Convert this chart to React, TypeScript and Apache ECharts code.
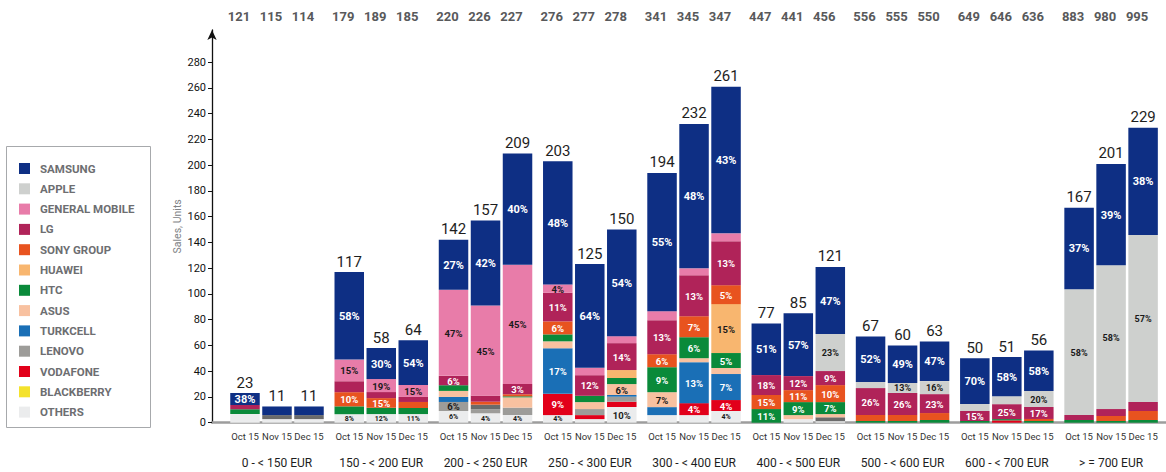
import React, { useEffect, useRef } from 'react';
import * as echarts from 'echarts';

// ---------- data ----------
const BRANDS = ['SAMSUNG', 'APPLE', 'GENERAL MOBILE', 'LG', 'SONY GROUP', 'HUAWEI', 'HTC', 'ASUS', 'TURKCELL', 'LENOVO', 'VODAFONE', 'BLACKBERRY', 'OTHERS'];
const RANGES = ['0 - < 150 EUR', '150 - < 200 EUR', '200 - < 250 EUR', '250 - < 300 EUR', '300 - < 400 EUR', '400 - < 500 EUR', '500 - < 600 EUR', '600 - < 700 EUR', '> = 700 EUR'];
const MONTHS = ['Oct 15', 'Nov 15', 'Dec 15'];
const AVG_PRICES = [121, 115, 114, 179, 189, 185, 220, 226, 227, 276, 277, 278, 341, 345, 347, 447, 441, 456, 556, 555, 550, 649, 646, 636, 883, 980, 995];
const TOTALS = [23, 11, 11, 117, 58, 64, 142, 157, 209, 203, 125, 150, 194, 232, 261, 77, 85, 121, 67, 60, 63, 50, 51, 56, 167, 201, 229];
const Y_TICKS = [0, 20, 40, 60, 80, 100, 120, 140, 160, 180, 200, 220, 240, 260, 280];

// units per bar (Oct/Nov/Dec for each price range)
const SAMSUNG = [9.3, 6.7, 6.7, 68, 24.1, 34.7, 38.8, 66, 86.4, 95.6, 80.6, 82.8, 107.4, 112.1, 113.9, 40, 48.8, 52.2, 35.4, 29.1, 30.7, 35.5, 30.4, 31.4, 63.3, 78.7, 83.3];
const APPLE = [0, 0, 0, 0, 0, 0, 0, 0, 0, 0, 0, 0, 0, 0, 0, 0, 0, 28.7, 4.7, 7.8, 10.1, 5.4, 6.2, 12.4, 97.7, 111.7, 129.6];
const GENERAL_MOBILE = [0, 0, 0, 16.8, 10.1, 9.3, 66.8, 70, 92.5, 6.5, 5.7, 5.4, 7, 5.4, 6.2, 0, 0, 0, 0, 0, 0, 0, 0, 0, 0, 0, 0];
const LG = [3.3, 0, 0, 8.5, 4.7, 3.9, 7.3, 4.7, 8, 22.2, 16, 20.9, 26.4, 31.8, 34.1, 15.5, 10.9, 10.9, 20.9, 17.1, 14.7, 7.8, 11.6, 9.3, 3.9, 5.4, 7];
const SONY = [0, 0, 0, 11, 7.5, 4.7, 0, 2.3, 1.6, 10.1, 0, 0, 10.1, 16.3, 14.7, 10.9, 9.3, 13.2, 4.7, 4.7, 5.4, 0, 0, 1.6, 0, 3.9, 7];
const HUAWEI = [0, 0, 0, 0, 0, 0, 0, 0, 0, 0, 0, 6.2, 0, 0, 38, 0, 0, 0, 0, 0, 0, 0, 0, 0, 0, 0, 0];
const HTC = [3.6, 0, 0, 6.1, 4.9, 4.7, 4.4, 0, 0.8, 5.4, 4.9, 4.7, 19.4, 16.3, 11.6, 10.6, 10.1, 9.3, 1.3, 1.3, 2.1, 1.3, 1, 1.3, 2.1, 1.3, 2.1];
const ASUS = [0, 0, 0, 0, 0, 0, 4.7, 0, 8, 5.4, 5.4, 8.5, 11.6, 3.1, 4.7, 0, 3.1, 2.5, 0, 0, 0, 0, 0, 0, 0, 0, 0];
const TURKCELL = [0, 0, 0, 0, 0, 0, 3.9, 0, 0, 35.4, 0, 1.3, 6.2, 31.8, 20.2, 0, 0, 0, 0, 0, 0, 0, 0, 0, 0, 0, 0];
const UNLISTED = [0, 3.1, 3.1, 0, 0, 0, 0, 3.6, 0, 0, 0, 0, 0, 0, 0, 0, 0, 3, 0, 0, 0, 0, 0, 0, 0, 0, 0];
const LENOVO = [0, 0, 0, 0, 0, 0, 7, 3.1, 5.7, 0, 4.7, 3.9, 0, 0, 0, 0, 0, 0, 0, 0, 0, 0, 0, 0, 0, 0, 0];
const VODAFONE = [0, 0, 0, 0, 0, 0, 0, 0, 0, 16.5, 3.1, 4.1, 0, 9.3, 8.5, 0, 0, 0, 0, 0, 0, 0, 1.8, 0, 0, 0, 0];
const BLACKBERRY = [0, 0, 0, 0, 0, 0, 0, 0, 0, 0, 0, 0, 0, 0, 0, 0, 0, 0, 0, 0, 0, 0, 0, 0, 0, 0, 0];
const OTHERS = [6.8, 2.8, 2.8, 6.6, 6.7, 6.7, 9.1, 7.3, 6, 5.9, 2.8, 12.2, 5.9, 5.9, 9.1, 0, 2.8, 1.2, 0, 0, 0, 0, 0, 0, 0, 0, 0];

// printed share labels (bar index -> %)
const SAMSUNG_PCT: Record<number, number> = { 0: 38, 3: 58, 4: 30, 5: 54, 6: 27, 7: 42, 8: 40, 9: 48, 10: 64, 11: 54, 12: 55, 13: 48, 14: 43, 15: 51, 16: 57, 17: 47, 18: 52, 19: 49, 20: 47, 21: 70, 22: 58, 23: 58, 24: 37, 25: 39, 26: 38 };
const APPLE_PCT: Record<number, number> = { 17: 23, 19: 13, 20: 16, 23: 20, 24: 58, 25: 58, 26: 57 };
const GM_PCT: Record<number, number> = { 3: 15, 4: 19, 5: 15, 6: 47, 7: 45, 8: 45, 9: 4 };
const LG_PCT: Record<number, number> = { 6: 6, 8: 3, 9: 11, 10: 12, 11: 14, 12: 13, 13: 13, 14: 13, 15: 18, 16: 12, 17: 9, 18: 26, 19: 26, 20: 23, 21: 15, 22: 25, 23: 17 };
const SONY_PCT: Record<number, number> = { 3: 10, 4: 15, 9: 6, 12: 6, 13: 7, 14: 5, 15: 15, 16: 11, 17: 10 };
const HUAWEI_PCT: Record<number, number> = { 14: 15 };
const HTC_PCT: Record<number, number> = { 12: 9, 13: 6, 14: 5, 15: 11, 16: 9, 17: 7 };
const ASUS_PCT: Record<number, number> = { 11: 6, 12: 7 };
const TURKCELL_PCT: Record<number, number> = { 9: 17, 13: 13, 14: 7 };
const LENOVO_PCT: Record<number, number> = { 6: 6 };
const VODAFONE_PCT: Record<number, number> = { 9: 9, 13: 4, 14: 4 };
const OTHERS_PCT: Record<number, number> = { 3: 8, 4: 12, 5: 11, 6: 6, 7: 4, 8: 4, 9: 4, 11: 10, 14: 4 };

// ---------- layout / styles ----------
const FONT = "Roboto, 'Liberation Sans', sans-serif";
const GROUP_STEP = 3.258;
const X_MIN = -1.031;
const X_MAX = 28.78;
const BAR_PX = 29.5;

const POS = AVG_PRICES.map((_, i) => Math.floor(i / 3) * GROUP_STEP + (i % 3));
const GROUP_POS = RANGES.map((_, g) => g * GROUP_STEP + 1);
const idxOf = (arr: number[], v: number) => arr.findIndex((p) => Math.abs(p - v) < 1e-6);

type Layer = { name: string; data: number[]; pct: Record<number, number>; color: string; text: string; size: number };
const DARK = '#1a1a1a';
const STACK: Layer[] = [
  { name: 'OTHERS', data: OTHERS, pct: OTHERS_PCT, color: '#ebeced', text: DARK, size: 7 },
  { name: 'BLACKBERRY', data: BLACKBERRY, pct: {}, color: '#f4e22c', text: DARK, size: 9.5 },
  { name: 'VODAFONE', data: VODAFONE, pct: VODAFONE_PCT, color: '#e2001a', text: '#fff', size: 9.5 },
  { name: 'LENOVO', data: LENOVO, pct: LENOVO_PCT, color: '#9d9c99', text: DARK, size: 9.5 },
  { name: 'UNLISTED', data: UNLISTED, pct: {}, color: '#6b6b6b', text: '#fff', size: 9.5 },
  { name: 'TURKCELL', data: TURKCELL, pct: TURKCELL_PCT, color: '#1a6fb6', text: '#fff', size: 9.5 },
  { name: 'ASUS', data: ASUS, pct: ASUS_PCT, color: '#f8c1a0', text: DARK, size: 9.5 },
  { name: 'HTC', data: HTC, pct: HTC_PCT, color: '#0a8a3a', text: '#fff', size: 9.5 },
  { name: 'HUAWEI', data: HUAWEI, pct: HUAWEI_PCT, color: '#f8b66f', text: DARK, size: 9.5 },
  { name: 'SONY GROUP', data: SONY, pct: SONY_PCT, color: '#e8531f', text: '#fff', size: 9.5 },
  { name: 'LG', data: LG, pct: LG_PCT, color: '#b02359', text: '#fff', size: 9.5 },
  { name: 'GENERAL MOBILE', data: GENERAL_MOBILE, pct: GM_PCT, color: '#e87ca9', text: DARK, size: 9.5 },
  { name: 'APPLE', data: APPLE, pct: APPLE_PCT, color: '#ced0ce', text: DARK, size: 9 },
  { name: 'SAMSUNG', data: SAMSUNG, pct: SAMSUNG_PCT, color: '#0e2f84', text: '#fff', size: 11 },
];

export default function App() {
  const ref = useRef<HTMLDivElement>(null);
  useEffect(() => {
    if (!ref.current) return;
    const chart = echarts.init(ref.current, undefined, { renderer: 'svg' });

    const base = POS.map(() => 0);
    const series: any[] = STACK.map((layer) => {
      const data = POS.map((p, i) => {
        const lo = base[i];
        const hi = lo + layer.data[i];
        base[i] = hi;
        return [p, lo, hi];
      });
      return {
        type: 'custom',
        name: layer.name,
        silent: true,
        itemStyle: { color: layer.color },
        encode: { x: 0, y: [1, 2] },
        data,
        renderItem: (params: any, api: any) => {
          const i = params.dataIndex;
          const x = api.value(0);
          const lo = api.value(1);
          const hi = api.value(2);
          if (!(hi - lo > 0)) return null;
          const a = api.coord([x, lo]);
          const b = api.coord([x, hi]);
          const h = a[1] - b[1];
          const children: any[] = [
            { type: 'rect', shape: { x: a[0] - BAR_PX / 2, y: b[1], width: BAR_PX, height: h }, style: { fill: layer.color } },
          ];
          const pct = layer.pct[i];
          if (pct != null) {
            let size = layer.size;
            if (layer.name === 'OTHERS') size = h > 14 ? 9.5 : 7;
            children.push({
              type: 'text',
              x: a[0],
              y: (a[1] + b[1]) / 2 + 0.5,
              style: { text: pct + '%', fill: layer.text, font: `bold ${size}px ${FONT}`, align: 'center', verticalAlign: 'middle' },
            });
          }
          return { type: 'group', children };
        },
      };
    });

    series.push({
      type: 'custom',
      name: 'TOTAL',
      silent: true,
      encode: { x: 0, y: 1 },
      data: POS.map((p, i) => [p, base[i]]),
      renderItem: (params: any, api: any) => {
        const i = params.dataIndex;
        const c = api.coord([api.value(0), api.value(1)]);
        return {
          type: 'text',
          x: c[0],
          y: c[1] - 3,
          style: { text: String(TOTALS[i]), fill: '#1e1e1e', font: `15px ${FONT}`, align: 'center', verticalAlign: 'bottom' },
        };
      },
    });

    const option: any = {
      animation: false,
      textStyle: { fontFamily: FONT },
      grid: { left: 212, right: 0, top: 30, bottom: 49.3, containLabel: false },
      legend: {
        data: BRANDS,
        orient: 'vertical',
        left: 19,
        top: 162.5,
        padding: 0,
        itemWidth: 11,
        itemHeight: 11,
        itemGap: 8.3,
        icon: 'rect',
        selectedMode: false,
        textStyle: { color: '#6d6e71', fontWeight: 'bold', fontSize: 11.5, fontFamily: FONT, padding: [0, 0, 0, 5] },
      },
      graphic: [
        { type: 'rect', silent: true, shape: { x: 6.5, y: 146.5, width: 144, height: 281 }, style: { fill: 'none', stroke: '#a7a9ac', lineWidth: 1 } },
      ],
      xAxis: [
        {
          type: 'value', min: X_MIN, max: X_MAX, position: 'bottom',
          axisLine: { show: true, onZero: false, lineStyle: { color: '#9d9d9d', width: 2.5 } },
          axisTick: { show: false }, splitLine: { show: false },
          axisLabel: {
            customValues: POS, margin: 9, fontSize: 9.5, color: '#333', fontFamily: FONT, showMinLabel: true, showMaxLabel: true, hideOverlap: false,
            formatter: (v: number) => { const k = idxOf(POS, v); return k < 0 ? '' : MONTHS[k % 3]; },
          },
        },
        {
          type: 'value', min: X_MIN, max: X_MAX, position: 'bottom', offset: 26,
          axisLine: { show: false }, axisTick: { show: false }, splitLine: { show: false },
          axisLabel: {
            customValues: GROUP_POS, margin: 8, fontSize: 12, color: '#1e1e1e', fontFamily: FONT, showMinLabel: true, showMaxLabel: true, hideOverlap: false,
            formatter: (v: number) => { const k = idxOf(GROUP_POS, v); return k < 0 ? '' : RANGES[k]; },
          },
        },
        {
          type: 'value', min: X_MIN, max: X_MAX, position: 'top',
          axisLine: { show: false }, axisTick: { show: false }, splitLine: { show: false },
          axisLabel: {
            customValues: POS, margin: 7, fontSize: 13, fontWeight: 'bold', color: '#58595b', fontFamily: FONT, padding: [0, 12, 0, 0],
            showMinLabel: true, showMaxLabel: true, hideOverlap: false,
            formatter: (v: number) => { const k = idxOf(POS, v); return k < 0 ? '' : String(AVG_PRICES[k]); },
          },
        },
      ],
      yAxis: {
        type: 'value', min: 0, max: 305,
        name: 'Sales, Units', nameLocation: 'middle', nameGap: 29, nameMoveOverlap: false,
        nameTextStyle: { color: '#808285', fontSize: 10.5, fontFamily: FONT },
        axisLine: { show: true, onZero: false, symbol: ['none', 'arrow'], symbolSize: [7, 10], lineStyle: { color: '#111', width: 1.3 } },
        axisTick: { show: true, customValues: Y_TICKS, length: 4, lineStyle: { color: '#111' } },
        axisLabel: { customValues: Y_TICKS, margin: 6, fontSize: 11, color: '#111', fontFamily: FONT },
        splitLine: { show: false },
      },
      series,
    };
    chart.setOption(option);
    return () => chart.dispose();
  }, []);
  return <div ref={ref} style={{ position: 'fixed', left: 0, top: 0, width: 1166, height: 472, background: '#fff' }} />;
}
